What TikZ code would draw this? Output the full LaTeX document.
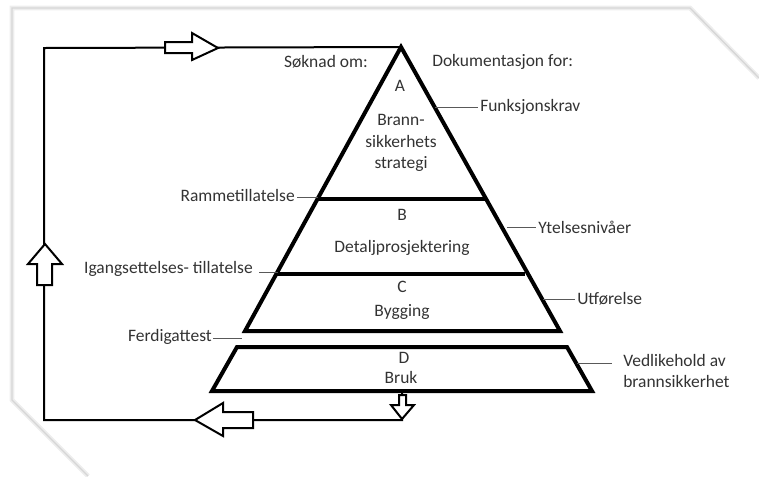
\documentclass[tikz,border=0pt]{standalone}
\usepackage{fontspec}
\setmainfont{Carlito}
\begin{document}
\begin{tikzpicture}[x=0.75pt,y=-0.75pt,
  txt/.style={inner sep=0pt,font=\fontsize{13.1}{16}\selectfont,text=black!80},
  ctxt/.style={txt,align=center},
  lead/.style={draw=black!65,line width=0.7pt},
  pyr/.style={line width=3pt,line join=miter},
  loopline/.style={line width=1.5pt},
  blockarrow/.style={draw=black,fill=white,line width=1.5pt,line join=miter},
  frameshadow/.style={draw=black!7,line width=3.5pt,line join=miter},
  framestyle/.style={draw=black!16,line width=1pt,line join=miter}]
\useasboundingbox (0,0) rectangle (759,476);
% page frame
\draw[frameshadow] (759,78) -- (690,8) -- (12,8) -- (12,400) -- (88,476);
\draw[framestyle] (759,78) -- (690,8) -- (12,8) -- (12,400) -- (88,476);
% pyramid
\coordinate (apex) at (401,47);
\coordinate (cbl) at (245,331);
\coordinate (cbr) at (560,331);
\draw[pyr] (apex) -- (cbr) -- (cbl) -- cycle;
\coordinate (abl) at (318,199);
\coordinate (abr) at (485,199);
\coordinate (bcl) at (277,274);
\coordinate (bcr) at (525,274);
\draw[pyr] (abl) -- (abr);
\draw[pyr] (bcl) -- (bcr);
\coordinate (dtl) at (237,347);
\coordinate (dtr) at (567,347);
\coordinate (dbr) at (592,391);
\coordinate (dbl) at (212,391);
\draw[pyr] (dtl) -- (dtr) -- (dbr) -- (dbl) -- cycle;
% loop
\coordinate (tl) at (44,48);
\coordinate (bl) at (44,420);
\coordinate (br) at (402,420);
\coordinate (dtop) at (402,391);
\draw[loopline] (apex) -- (tl) -- (bl) -- (br) -- (dtop);
% block arrows
\draw[blockarrow] (165,42) -- (192,42) -- (192,33) -- (218,48) -- (192,60) -- (192,53) -- (165,53) -- cycle;
\draw[blockarrow] (37,285) -- (37,264) -- (28,264) -- (45,244) -- (62,264) -- (52,264) -- (52,285) -- cycle;
\draw[blockarrow] (253,412) -- (223,412) -- (223,403) -- (195,420) -- (223,436) -- (223,428) -- (253,428) -- cycle;
\draw[blockarrow] (399,395) -- (406,395) -- (406,405) -- (414,405) -- (402,419) -- (391,405) -- (399,405) -- cycle;
% titles
\node[txt,anchor=east] (soknad) at (368,62) {Søknad om:};
\node[txt,anchor=west] (dok) at (432,62) {Dokumentasjon for:};
% level texts
\node[ctxt] (A) at (400,86) {A};
\node[ctxt,text width=120] (Atxt) at (401,143) {Brann-\\sikkerhets\\strategi};
\node[ctxt] (B) at (402,215) {B};
\node[ctxt] (Btxt) at (402,248) {Detaljprosjektering};
\node[ctxt] (C) at (402,287) {C};
\node[ctxt] (Ctxt) at (402,312) {Bygging};
\node[ctxt] (D) at (404,358) {D};
\node[ctxt] (Dtxt) at (401,377) {Bruk};
% right labels
\node[txt,anchor=west] (funk) at (480,107) {Funksjonskrav};
\coordinate (funkL) at (435,107);
\draw[lead] (funkL) -- ([xshift=-1.5pt]funk.west);
\node[txt,anchor=west] (ytel) at (538,227) {Ytelsesnivåer};
\coordinate (ytelL) at (507,227);
\draw[lead] (ytelL) -- ([xshift=-1.5pt]ytel.west);
\node[txt,anchor=west] (utf) at (577,299) {Utførelse};
\coordinate (utfL) at (543,299);
\draw[lead] (utfL) -- ([xshift=-1.5pt]utf.west);
\node[txt,anchor=west,align=left] (vedl) at (623,371) {Vedlikehold av\\brannsikkerhet};
\coordinate (vedlL) at (577,363);
\coordinate (vedlR) at (612,363);
\draw[lead] (vedlL) -- (vedlR);
% left labels
\node[txt,anchor=east] (ramme) at (295,195) {Rammetillatelse};
\coordinate (rammeR) at (318,197);
\draw[lead] (ramme.east) ++(2,2) -- (rammeR);
\node[txt,anchor=east] (igang) at (253,269) {Igangsettelses- tillatelse};
\coordinate (igangR) at (278,272);
\draw[lead] (igang.east) ++(6,3) -- (igangR);
\node[txt,anchor=east] (ferdig) at (212,337) {Ferdigattest};
\coordinate (ferdigR) at (242,338);
\draw[lead] (ferdig.east) ++(1,1) -- (ferdigR);
\end{tikzpicture}
\end{document}
